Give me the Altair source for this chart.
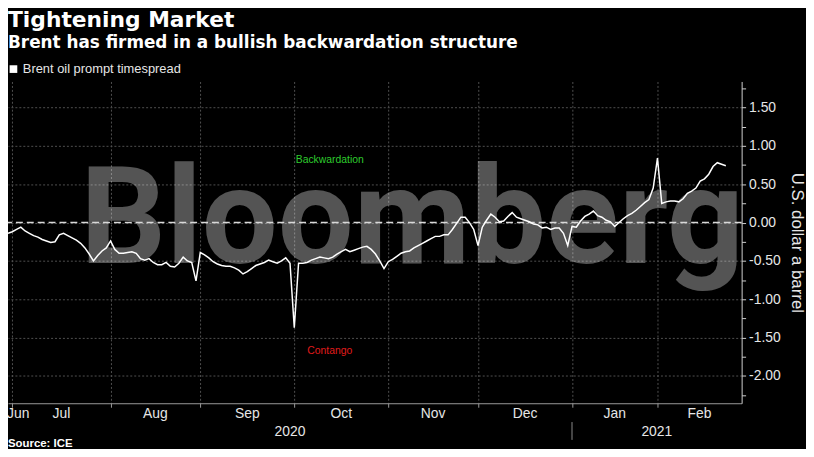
import altair as alt
import pandas as pd

TITLE = "Tightening Market"
SUBTITLE = "Brent has firmed in a bullish backwardation structure"
SERIES = "Brent oil prompt timespread"
Y_TITLE = "U.S. dollar a barrel"
SOURCE = "Source: ICE"
WATERMARK = "Bloomberg"

start_date = "2020-06-30"
holidays = ["2020-12-25", "2021-01-01"]

# Brent prompt timespread, USD/bbl, one value per trading day
spread = [
    -0.14, -0.12, -0.09, -0.06, -0.11, -0.14, -0.17, -0.19, -0.22, -0.24,
    -0.26, -0.25, -0.16, -0.14, -0.17, -0.20, -0.23, -0.27, -0.33, -0.41,
    -0.50, -0.43, -0.37, -0.33, -0.24, -0.35, -0.40, -0.40, -0.39, -0.38,
    -0.40, -0.47, -0.49, -0.47, -0.52, -0.55, -0.55, -0.52, -0.57, -0.58,
    -0.53, -0.45, -0.50, -0.52, -0.76, -0.39, -0.42, -0.46, -0.51, -0.54,
    -0.56, -0.57, -0.57, -0.59, -0.62, -0.67, -0.64, -0.60, -0.56, -0.54,
    -0.52, -0.49, -0.51, -0.53, -0.50, -0.46, -0.53, -1.37, -0.53, -0.53,
    -0.52, -0.49, -0.47, -0.45, -0.46, -0.47, -0.45, -0.41, -0.38, -0.35,
    -0.38, -0.36, -0.34, -0.32, -0.31, -0.35, -0.41, -0.50, -0.60, -0.51,
    -0.48, -0.44, -0.40, -0.38, -0.37, -0.33, -0.30, -0.27, -0.24, -0.21,
    -0.18, -0.18, -0.16, -0.16, -0.09, -0.01, 0.07, 0.07, 0.00, -0.09,
    -0.30, -0.06, 0.03, 0.11, 0.07, 0.01, 0.02, 0.08, 0.13, 0.07,
    0.05, 0.03, 0.01, -0.02, -0.03, -0.07, -0.06, -0.09, -0.07, -0.07,
    -0.14, -0.30, -0.05, -0.06, 0.02, 0.08, 0.11, 0.15, 0.09, 0.07,
    0.03, 0.01, -0.05, 0.00, 0.05, 0.09, 0.12, 0.16, 0.21, 0.26,
    0.30, 0.45, 0.84, 0.25, 0.27, 0.28, 0.28, 0.27, 0.31, 0.38,
    0.41, 0.45, 0.54, 0.57, 0.63, 0.73, 0.78, 0.76, 0.74,
]

annot_text = ["Backwardation", "Contango"]
annot_day = [75.3, 75.3]
annot_value = [0.82, -1.68]
annot_color = ["#2ecc2e", "#e01b1b"]

y_ticks = [-2.25, -2.0, -1.75, -1.5, -1.25, -1.0, -0.75, -0.5, -0.25, 0.0,
           0.25, 0.5, 0.75, 1.0, 1.25, 1.5, 1.75]

# ---------------------------------------------------------------- tables
dates = pd.bdate_range(start=start_date, periods=len(spread), freq="C", holidays=holidays)
df = pd.DataFrame({"day": range(len(spread)), "date": dates, "value": spread, "series": SERIES})

X_MAX = 171.7
W, H = 741, 325

periods = df["date"].dt.to_period("M")
starts = df.groupby(periods)["day"].min()
month_rows = []
pl = list(starts.items())
for k, (p, s) in enumerate(pl):
    e = pl[k + 1][1] if k + 1 < len(pl) else X_MAX
    month_rows.append({"day": max((s + e) / 2, 2.4), "label": p.strftime("%b")})
month_df = pd.DataFrame(month_rows)
grid_vals = [int(v) for v in starts.values[1:]]

ystarts = df.groupby(df["date"].dt.year)["day"].min()
yl = list(ystarts.items())
year_rows = []
for k, (yr, s) in enumerate(yl):
    e = yl[k + 1][1] if k + 1 < len(yl) else X_MAX
    year_rows.append({"day": (s + e) / 2, "label": str(yr)})
year_df = pd.DataFrame(year_rows)
sep_df = pd.DataFrame({"day": [int(v) for v in ystarts.values[1:]]})

annot_df = pd.DataFrame({"day": annot_day, "value": annot_value, "label": annot_text, "c": annot_color})

# ---------------------------------------------------------------- encodings
x_enc = alt.X(
    "day:Q",
    scale=alt.Scale(domain=[0, X_MAX], nice=False, zero=False),
    axis=alt.Axis(values=grid_vals, labels=False, title=None, grid=True,
                  gridColor="#505050", gridDash=[2, 2], gridWidth=1,
                  tickColor="#9a9a9a", tickSize=4, domainColor="#9a9a9a"),
)
y_enc = alt.Y(
    "value:Q",
    scale=alt.Scale(domain=[-2.355, 1.839], nice=False, zero=False),
    axis=alt.Axis(
        orient="right", values=y_ticks, title=Y_TITLE,
        labelExpr="datum.value % 0.5 === 0 ? replace(format(datum.value, '.2f'), '\u2212', '-') : ''",
        gridOpacity={"condition": {"test": "datum.value % 0.5 !== 0", "value": 0}, "value": 1},
        gridColor="#505050", gridDash=[2, 2], gridWidth=1,
        domainColor="#d0d0d0", tickColor="#d0d0d0", tickSize=4,
        labelColor="#e6e6e6", labelFont="Liberation Sans", labelFontSize=14, labelPadding=3,
        titleColor="#e6e6e6", titleFont="Liberation Sans", titleFontSize=17,
        titleFontWeight="normal", titleAngle=90, titlePadding=7,
    ),
)

watermark = alt.Chart(pd.DataFrame({"t": [WATERMARK]})).mark_text(
    align="left", baseline="alphabetic", font="Roboto",
    fontWeight="bold", fontSize=136, color="white", opacity=0.33,
).encode(x=alt.value(73), y=alt.value(183), text="t:N")

zero = alt.Chart(pd.DataFrame({"value": [0.0]})).mark_rule(
    color="#d9d9d9", strokeDash=[7, 4], strokeWidth=1.5
).encode(y=y_enc)

line = alt.Chart(df).mark_line(strokeWidth=1.5).encode(
    x=x_enc, y=y_enc,
    color=alt.Color("series:N", scale=alt.Scale(range=["#ffffff"]),
                    legend=alt.Legend(orient="none", legendX=-1, legendY=-19, title=None,
                                      symbolType="square", symbolSize=60,
                                      symbolFillColor="#ffffff", symbolStrokeWidth=0,
                                      labelColor="#e6e6e6", labelFont="Liberation Sans",
                                      labelFontSize=13, labelOffset=3, padding=0)),
)

annots = alt.Chart(annot_df).mark_text(font="Liberation Sans", fontSize=10.5).encode(
    x=x_enc, y=y_enc, text="label:N", color=alt.Color("c:N", scale=None)
)

months = alt.Chart(month_df).mark_text(
    font="Liberation Sans", fontSize=14, color="#e6e6e6", baseline="alphabetic"
).encode(x=x_enc, y=alt.value(H + 15), text="label:N")

years = alt.Chart(year_df).mark_text(
    font="Liberation Sans", fontSize=14, color="#e6e6e6", baseline="alphabetic"
).encode(x=x_enc, y=alt.value(H + 33), text="label:N")

sep = alt.Chart(sep_df).mark_rule(color="#8a8a8a", strokeWidth=1).encode(
    x=x_enc, y=alt.value(H + 19), y2=alt.value(H + 37)
)

title = alt.Chart(pd.DataFrame({"t": [TITLE]})).mark_text(
    align="left", baseline="alphabetic", font="DejaVu Sans", fontWeight="bold",
    fontSize=22, color="white"
).encode(x=alt.value(0), y=alt.value(-55), text="t:N")

subtitle = alt.Chart(pd.DataFrame({"t": [SUBTITLE]})).mark_text(
    align="left", baseline="alphabetic", font="DejaVu Sans", fontWeight="bold",
    fontSize=17, color="white"
).encode(x=alt.value(0), y=alt.value(-34), text="t:N")

source = alt.Chart(pd.DataFrame({"t": [SOURCE]})).mark_text(
    align="left", baseline="alphabetic", font="Liberation Sans", fontWeight="bold",
    fontSize=11.5, color="white"
).encode(x=alt.value(0), y=alt.value(H + 44), text="t:N")

chart = alt.layer(
    watermark, zero, line, annots, months, years, sep, title, subtitle, source
).properties(
    width=W, height=H,
    autosize=alt.AutoSizeParams(type="none"),
    padding={"left": 0, "top": 72, "right": 65, "bottom": 44},
    background="black",
).configure_view(strokeWidth=0)

chart.save("out.html", embed_options={"renderer": "svg", "actions": False})
